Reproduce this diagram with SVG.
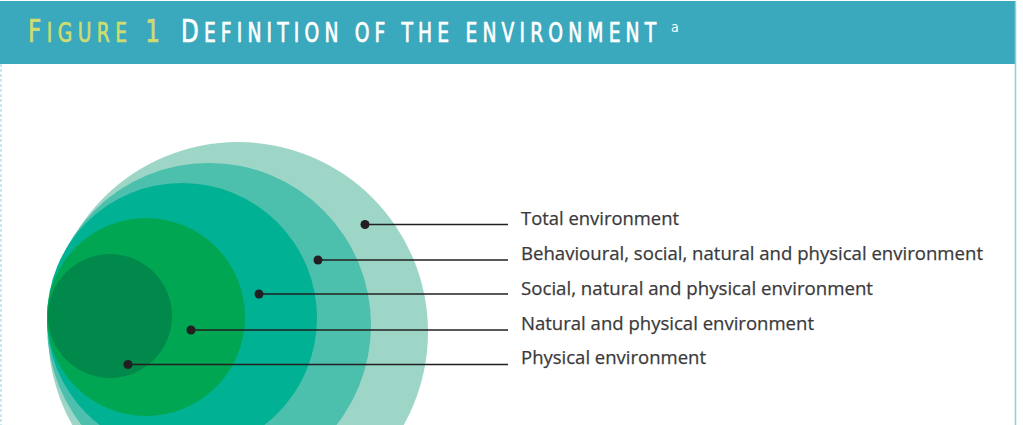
<svg xmlns="http://www.w3.org/2000/svg" width="1023" height="425" viewBox="0 0 1023 425">
<style>
.lbl{font-family:"Open Sans","Liberation Sans",sans-serif;font-size:19px;fill:#3a3a3c;stroke:#3a3a3c;stroke-width:0.25}
.hd{font-family:"DejaVu Sans Condensed","DejaVu Sans","Liberation Sans",sans-serif;stroke-width:0.7}
.ln{stroke:#231f20;stroke-width:1.6;fill:none}
.dot{fill:#231f20}
</style>
<rect x="0" y="0" width="1023" height="425" fill="#ffffff"/>
<g id="frame">
<rect x="0" y="1" width="1016" height="63" fill="#3aa8bd"/>
<line x1="1015.5" y1="1" x2="1015.5" y2="425" stroke="#8fd0dc" stroke-width="1.5"/>
<line x1="1" y1="64" x2="1" y2="425" stroke="#a8dbe4" stroke-width="1.2" stroke-dasharray="3,2"/>
</g>
<g id="title">
<text class="hd" transform="translate(28,42) scale(0.8,1)" x="0" y="0" fill="#cfdc72" stroke="#cfdc72" textLength="165" lengthAdjust="spacing"><tspan font-size="32">F</tspan><tspan font-size="26">IGURE</tspan><tspan font-size="32"> 1</tspan></text>
<text class="hd" transform="translate(181,42) scale(0.8,1)" x="0" y="0" fill="#ffffff" stroke="#ffffff" textLength="594" lengthAdjust="spacing"><tspan font-size="32">D</tspan><tspan font-size="26">EFINITION OF THE ENVIRONMENT</tspan></text>
<text class="hd" x="671" y="32" fill="#ffffff" font-size="14">a</text>
</g>
<g id="circle-total"><circle cx="238" cy="332" r="190" fill="#9dd6c7"/></g>
<g id="circle-behavioural"><circle cx="209" cy="325" r="162" fill="#4cbfad"/></g>
<g id="circle-social"><circle cx="182" cy="318" r="135" fill="#00b194"/></g>
<g id="circle-natural"><circle cx="146" cy="317" r="99" fill="#00a651"/></g>
<g id="circle-physical"><circle cx="110" cy="316" r="62" fill="#00894a"/></g>
<g id="connectors">
<line class="ln" x1="365" y1="224.5" x2="508" y2="224.5"/>
<line class="ln" x1="318" y1="260" x2="508" y2="260"/>
<line class="ln" x1="259" y1="294" x2="508" y2="294"/>
<line class="ln" x1="191" y1="330" x2="508" y2="330"/>
<line class="ln" x1="128" y1="364.5" x2="508" y2="364.5"/>
<circle class="dot" cx="365" cy="224.5" r="4.5"/>
<circle class="dot" cx="318" cy="260" r="4.5"/>
<circle class="dot" cx="259" cy="294" r="4.5"/>
<circle class="dot" cx="191" cy="330" r="4.5"/>
<circle class="dot" cx="128" cy="364.5" r="4.5"/>
</g>
<g id="labels">
<text class="lbl" x="521" y="225" textLength="158" lengthAdjust="spacingAndGlyphs">Total environment</text>
<text class="lbl" x="521" y="260" textLength="462" lengthAdjust="spacingAndGlyphs">Behavioural, social, natural and physical environment</text>
<text class="lbl" x="521" y="295" textLength="352" lengthAdjust="spacingAndGlyphs">Social, natural and physical environment</text>
<text class="lbl" x="521" y="330" textLength="293" lengthAdjust="spacingAndGlyphs">Natural and physical environment</text>
<text class="lbl" x="521" y="364" textLength="185" lengthAdjust="spacingAndGlyphs">Physical environment</text>
</g>
</svg>
